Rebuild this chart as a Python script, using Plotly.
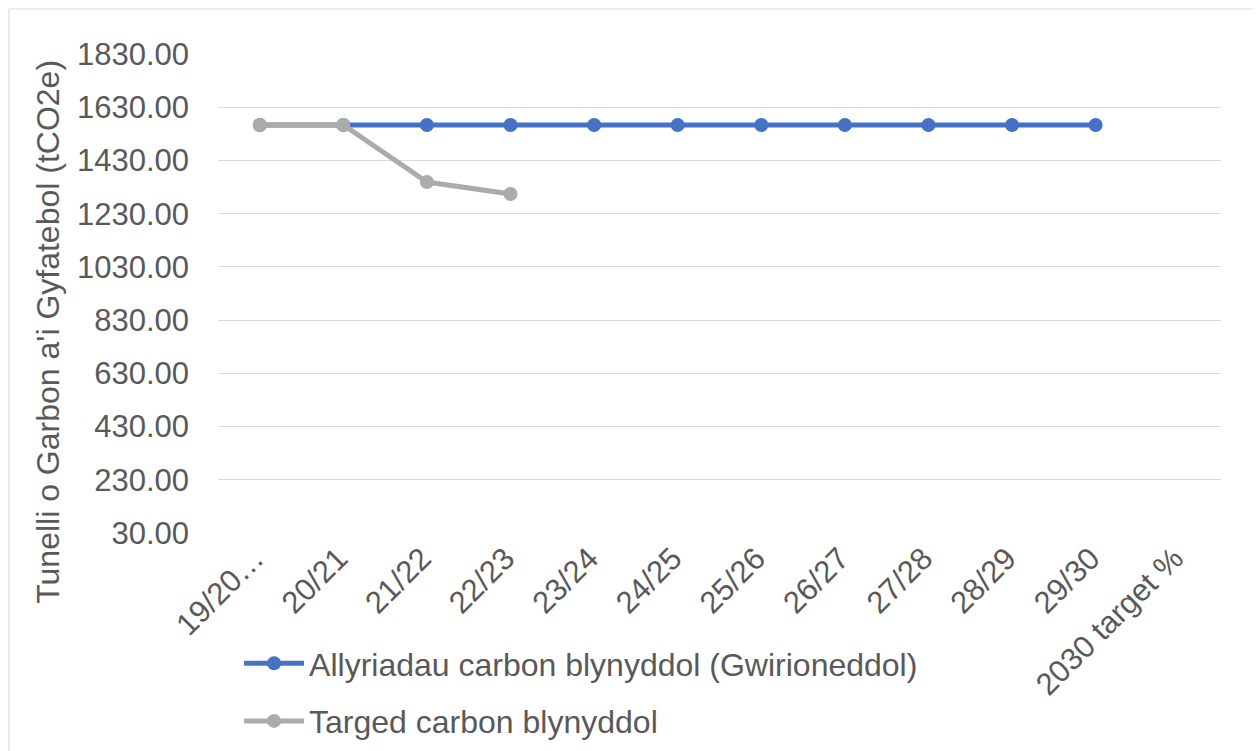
import plotly.graph_objects as go

# data
years = ["19/20…", "20/21", "21/22", "22/23", "23/24", "24/25", "25/26",
         "26/27", "27/28", "28/29", "29/30", "2030 target %"]
actual = [1563, 1563, 1563, 1563, 1563, 1563, 1563, 1563, 1563, 1563, 1563, None]
target = [1563, 1563, 1349, 1304, None, None, None, None, None, None, None, None]
y_ticks = [30, 230, 430, 630, 830, 1030, 1230, 1430, 1630, 1830]

FONT = "Arial, Liberation Sans, sans-serif"
TXT = "#595959"

fig = go.Figure()

fig.add_trace(go.Scatter(
    x=years, y=actual, mode="lines+markers",
    name="Allyriadau carbon blynyddol (Gwirioneddol)",
    line=dict(color="#4472C4", width=5),
    marker=dict(size=14, color="#4472C4"),
    legendgroup="a",
))
fig.add_trace(go.Scatter(
    x=years, y=target, mode="lines+markers",
    name="Targed carbon blynyddol",
    line=dict(color="#ABABAB", width=5),
    marker=dict(size=14, color="#ABABAB"),
    legendgroup="b",
))

# the page body keeps an 8px margin, so the figure is 8px smaller each way
fig.update_layout(
    width=1252, height=743,
    margin=dict(l=210, r=39, t=46, b=218, autoexpand=False),
    paper_bgcolor="white", plot_bgcolor="white",
    font=dict(family=FONT, color=TXT),
    showlegend=True,
    legend=dict(font=dict(family=FONT, size=32, color=TXT),
                bgcolor="rgba(0,0,0,0)", xanchor="left", yanchor="top",
                x=0.021, y=-0.215, tracegroupgap=13, itemwidth=60,
                orientation="v"),
    xaxis=dict(
        range=[-0.5, 11.5], showgrid=False, zeroline=False, showline=False,
        tickangle=-45, tickfont=dict(family=FONT, size=31, color=TXT),
        ticklabelstandoff=0, ticklabelshift=-5,
        fixedrange=True, automargin=False,
    ),
    yaxis=dict(
        range=[30, 1830], tickvals=y_ticks, tickformat=".2f",
        showgrid=True, gridcolor="#D9D9D9", gridwidth=1,
        zeroline=False, showline=False,
        tickfont=dict(family=FONT, size=31, color=TXT),
        ticklabelstandoff=28, fixedrange=True, automargin=False,
    ),
    annotations=[dict(
        text="Tunelli o Garbon a'i Gyfatebol (tCO2e)",
        xref="paper", yref="paper", x=-0.1695, y=0.42,
        xanchor="center", yanchor="middle",
        textangle=-90, showarrow=False,
        font=dict(family=FONT, size=32, color=TXT),
    )],
    shapes=[dict(
        type="rect", xref="paper", yref="paper",
        x0=-0.2084, x1=1.035, y0=-0.5, y1=1.094,
        line=dict(color="#D9D9D9", width=1), fillcolor="rgba(0,0,0,0)",
        layer="below",
    )],
)

fig.write_html("out.html")
